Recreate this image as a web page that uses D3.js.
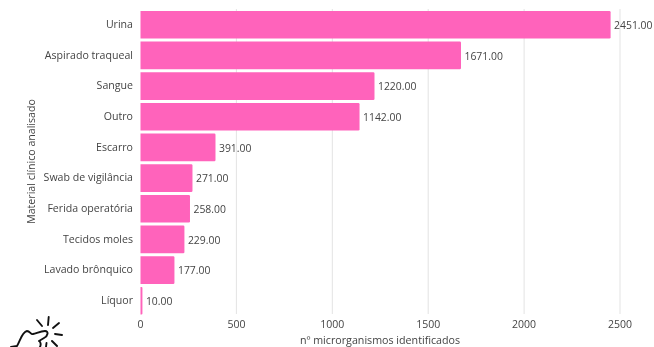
<!DOCTYPE html>
<html>
<head>
<meta charset="utf-8">
<script src="https://cdn.jsdelivr.net/npm/d3@7/dist/d3.min.js"></script>
<style>
html,body{margin:0;padding:0;background:#fff;}
svg{display:block;filter:blur(0.4px);}
text{font-family:"Open Sans",sans-serif;fill:#444;}
</style>
</head>
<body>
<svg id="c" width="654" height="347"></svg>
<script>
const categories = ["Urina","Aspirado traqueal","Sangue","Outro","Escarro","Swab de vigilância","Ferida operatória","Tecidos moles","Lavado brônquico","Líquor"];
const values = [2451,1671,1220,1142,391,271,258,229,177,10];
const xTicks = [0,500,1000,1500,2000,2500];
const xTitle = "nº microrganismos identificados";
const yTitle = "Material clínico analisado";

const svg = d3.select("#c");
const x = d3.scaleLinear().domain([0,2500]).range([140.5,620]);
const y = d3.scaleBand().domain(categories).range([9.4,316.1]).paddingInner(0.1).paddingOuter(0.05);

// gridlines
svg.append("g").selectAll("line").data(xTicks.slice(1)).join("line")
  .attr("x1",d=>x(d)).attr("x2",d=>x(d))
  .attr("y1",9).attr("y2",314)
  .attr("stroke","#e3e3e3").attr("stroke-width",1);

// bars
svg.append("g").selectAll("path").data(values).join("path")
  .attr("fill","#ff63bb")
  .attr("d",(d,i)=>{
    const x0=x(0), x1=x(d), t=y(categories[i]), b=t+y.bandwidth(), r=Math.min(1.2,(x1-x0)/2);
    return `M${x0},${t}H${x1-r}Q${x1},${t} ${x1},${t+r}V${b-r}Q${x1},${b} ${x1-r},${b}H${x0}Z`;
  });

// value labels
svg.append("g").selectAll("text").data(values).join("text")
  .attr("x",d=>x(d)+3.5)
  .attr("y",(d,i)=>y(categories[i])+y.bandwidth()/2+0.5)
  .attr("dy","0.35em")
  .attr("font-size",10.4)
  .text(d=>d3.format(".2f")(d));

// category labels
svg.append("g").selectAll("text").data(categories).join("text")
  .attr("x",133)
  .attr("y",d=>y(d)+y.bandwidth()/2-0.5)
  .attr("dy","0.35em")
  .attr("text-anchor","end")
  .attr("font-size",10.6)
  .text(d=>d);

// x axis labels
svg.append("g").selectAll("text").data(xTicks).join("text")
  .attr("x",d=>x(d))
  .attr("y",328)
  .attr("text-anchor","middle")
  .attr("font-size",10.5)
  .text(d=>d);

svg.append("text").attr("x",380).attr("y",344)
  .attr("text-anchor","middle").attr("font-size",10.7).text(xTitle);

svg.append("text")
  .attr("transform","translate(35,161.5) rotate(-90)")
  .attr("text-anchor","middle").attr("font-size",10.6).text(yTitle);

// decorative hand doodle, bottom-left
const doodle = svg.append("g").attr("fill","none").attr("stroke","#111").attr("stroke-width",1.9).attr("stroke-linecap","round").attr("stroke-linejoin","round");
["M11,347L17,346C20,341 22,332 27,331C30,331 31,335 33,334C37,333 41,331 45,331C49,331 48,336 44,338L39,341C41,342 41,345 40,347",
 "M37,320L42,326","M48.7,317L48,325","M59,323L53,328","M62,335L55,334","M52,341L57,346","M46.5,343L46,347"
].forEach(d=>doodle.append("path").attr("d",d));
</script>
</body>
</html>
